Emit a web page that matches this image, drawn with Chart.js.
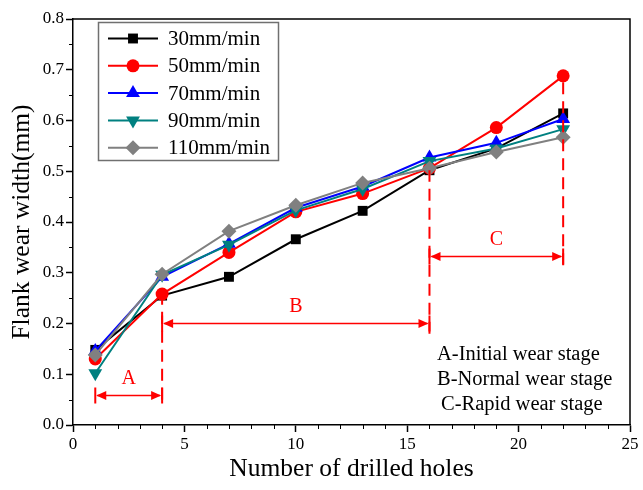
<!DOCTYPE html>
<html><head><meta charset="utf-8">
<script src="https://cdn.jsdelivr.net/npm/chart.js@4/dist/chart.umd.min.js"></script>
<style>html,body{margin:0;padding:0;background:#fff;}canvas{display:block;}</style>
</head><body>
<canvas id="c" width="643" height="490"></canvas>
<script>
// ---- data ----
const holes = [1, 4, 7, 10, 13, 16, 19, 22];
const seriesNames = ['30mm/min', '50mm/min', '70mm/min', '90mm/min', '110mm/min'];
const v30  = [0.148, 0.255, 0.292, 0.366, 0.422, 0.502, 0.545, 0.614];
const v50  = [0.130, 0.258, 0.340, 0.420, 0.456, 0.506, 0.586, 0.688];
const v70  = [0.146, 0.292, 0.357, 0.428, 0.470, 0.527, 0.556, 0.603];
const v90  = [0.102, 0.296, 0.355, 0.423, 0.465, 0.520, 0.545, 0.583];
const v110 = [0.138, 0.297, 0.382, 0.433, 0.477, 0.506, 0.538, 0.567];
const xTickValues = [0, 5, 10, 15, 20, 25];
const yTickValues = [0.0, 0.1, 0.2, 0.3, 0.4, 0.5, 0.6, 0.7, 0.8];
const stageBounds = [1, 4, 16, 22];
const stageLetters = ['A', 'B', 'C'];
const stageArrowY = [0.058, 0.200, 0.332];
const stageLineBottom = [0.05, 0.05, 0.18, 0.315];
const stageLineTop = [0.08, 0.255, 0.502, 0.688];
const stageNotes = ['A-Initial wear stage', 'B-Normal wear stage', 'C-Rapid wear stage'];

// ---- styles ----
const FONT = "'Liberation Serif', 'Times New Roman', serif";
const RED = '#ff0000';
const styles = [
  {color: '#000000', shape: 'rect', r: 7, rot: 0},
  {color: '#ff0000', shape: 'circle', r: 6.5, rot: 0},
  {color: '#0000ff', shape: 'triangle', r: 8, rot: 0},
  {color: '#008080', shape: 'triangle', r: 8, rot: 180},
  {color: '#808080', shape: 'rectRot', r: 7.5, rot: 0}
];
const allValues = [v30, v50, v70, v90, v110];

Chart.defaults.font.family = FONT;
Chart.defaults.color = '#000';

const datasets = allValues.map((vals, i) => ({
  label: seriesNames[i],
  data: holes.map((h, j) => ({x: h, y: vals[j]})),
  borderColor: styles[i].color,
  backgroundColor: styles[i].color,
  borderWidth: 2,
  pointStyle: styles[i].shape,
  pointRadius: styles[i].r,
  pointRotation: styles[i].rot,
  pointBorderWidth: 0,
  pointBackgroundColor: styles[i].color,
  tension: 0,
  order: 5 - i
}));

function drawMarker(ctx, st, x, y) {
  ctx.save();
  ctx.fillStyle = st.color;
  ctx.beginPath();
  const r = st.r;
  if (st.shape === 'rect') {
    const s = r * Math.SQRT1_2;
    ctx.rect(x - s, y - s, 2 * s, 2 * s);
  } else if (st.shape === 'circle') {
    ctx.arc(x, y, r, 0, Math.PI * 2);
  } else if (st.shape === 'triangle') {
    let rad = st.rot * Math.PI / 180;
    for (let k = 0; k < 3; k++) {
      const px = x + Math.sin(rad) * r, py = y - Math.cos(rad) * r;
      if (k === 0) ctx.moveTo(px, py); else ctx.lineTo(px, py);
      rad += 2 * Math.PI / 3;
    }
  } else if (st.shape === 'rectRot') {
    ctx.moveTo(x - r, y); ctx.lineTo(x, y - r); ctx.lineTo(x + r, y); ctx.lineTo(x, y + r);
  }
  ctx.closePath();
  ctx.fill();
  ctx.restore();
}

const decorPlugin = {
  id: 'decor',
  afterDatasetsDraw(chart) {
    const {ctx, chartArea: a, scales: {x, y}} = chart;
    ctx.save();
    // frame top/right
    ctx.strokeStyle = '#000'; ctx.lineWidth = 1.5;
    ctx.beginPath();
    ctx.moveTo(a.left, a.top); ctx.lineTo(a.right, a.top); ctx.lineTo(a.right, a.bottom);
    ctx.stroke();
    // minor ticks
    ctx.lineWidth = 1;
    ctx.beginPath();
    for (let v = 1; v < 25; v++) {
      if (v % 5 === 0) continue;
      const px = Math.round(x.getPixelForValue(v)) + 0.5;
      ctx.moveTo(px, a.bottom); ctx.lineTo(px, a.bottom + 4);
    }
    for (let k = 0; k < yTickValues.length - 1; k++) {
      const py = Math.round(y.getPixelForValue((yTickValues[k] + yTickValues[k + 1]) / 2)) + 0.5;
      ctx.moveTo(a.left - 4, py); ctx.lineTo(a.left, py);
    }
    ctx.stroke();

    // stage annotations
    ctx.strokeStyle = RED; ctx.fillStyle = RED;
    ctx.lineWidth = 2;
    ctx.setLineDash([12, 7]);
    for (let i = 1; i < stageBounds.length; i++) {
      const px = x.getPixelForValue(stageBounds[i]);
      ctx.beginPath();
      ctx.moveTo(px, y.getPixelForValue(stageLineBottom[i]));
      ctx.lineTo(px, y.getPixelForValue(stageLineTop[i]));
      ctx.stroke();
    }
    ctx.setLineDash([]);
    for (let i = 0; i < stageLetters.length; i++) {
      const x1 = x.getPixelForValue(stageBounds[i]);
      const x2 = x.getPixelForValue(stageBounds[i + 1]);
      const py = y.getPixelForValue(stageArrowY[i]);
      ctx.lineWidth = 2;
      ctx.beginPath();
      ctx.moveTo(x1, py - 8); ctx.lineTo(x1, py + 8);
      ctx.moveTo(x2, py - 8); ctx.lineTo(x2, py + 8);
      ctx.stroke();
      ctx.lineWidth = 1.5;
      ctx.beginPath();
      ctx.moveTo(x1 + 2, py); ctx.lineTo(x2 - 2, py);
      ctx.stroke();
      ctx.beginPath();
      ctx.moveTo(x1 + 1, py); ctx.lineTo(x1 + 11, py - 4.5); ctx.lineTo(x1 + 11, py + 4.5); ctx.closePath();
      ctx.fill();
      ctx.beginPath();
      ctx.moveTo(x2 - 1, py); ctx.lineTo(x2 - 11, py - 4.5); ctx.lineTo(x2 - 11, py + 4.5); ctx.closePath();
      ctx.fill();
      ctx.font = '20px ' + FONT;
      ctx.textAlign = 'center'; ctx.textBaseline = 'middle';
      ctx.fillText(stageLetters[i], (x1 + x2) / 2, py - 17);
    }
    // stage notes
    ctx.fillStyle = '#000';
    ctx.font = '20.5px ' + FONT;
    ctx.textAlign = 'left'; ctx.textBaseline = 'middle';
    for (let i = 0; i < stageNotes.length; i++) {
      ctx.fillText(stageNotes[i], i === 2 ? 441 : 437, 355 + i * 25);
    }

    // legend
    const lx = 98.5, ly = 22.5, lw = 180, lh = 138;
    ctx.fillStyle = '#fff';
    ctx.fillRect(lx, ly, lw, lh);
    ctx.strokeStyle = '#707070'; ctx.lineWidth = 1.5;
    ctx.strokeRect(lx, ly, lw, lh);
    ctx.font = '21px ' + FONT;
    ctx.textAlign = 'left'; ctx.textBaseline = 'middle';
    for (let i = 0; i < seriesNames.length; i++) {
      const ry = 38.5 + i * 27.3;
      ctx.strokeStyle = styles[i].color; ctx.lineWidth = 2;
      ctx.beginPath(); ctx.moveTo(108, ry); ctx.lineTo(158, ry); ctx.stroke();
      drawMarker(ctx, styles[i], 133, ry);
      ctx.fillStyle = '#000';
      ctx.fillText(seriesNames[i], 168, ry + 1);
    }
    ctx.restore();
  }
};

new Chart(document.getElementById('c'), {
  type: 'line',
  data: {datasets},
  options: {
    responsive: false,
    animation: false,
    devicePixelRatio: 1,
    layout: {padding: {top: 19, right: 13, left: 0, bottom: 0}},
    plugins: {legend: {display: false}, tooltip: {enabled: false}},
    scales: {
      x: {
        type: 'linear', min: 0, max: 25,
        afterFit: s => { s.height = 65; },
        afterBuildTicks: s => { s.ticks = xTickValues.map(v => ({value: v})); },
        ticks: {font: {size: 17, family: FONT}, color: '#000', padding: 2, maxRotation: 0,
                callback: v => String(v)},
        grid: {display: true, drawOnChartArea: false, drawTicks: true, tickLength: 7, color: '#000', tickWidth: 1.5},
        border: {display: true, color: '#000', width: 1.5},
        title: {display: true, text: 'Number of drilled holes', font: {size: 25.5, family: FONT}, color: '#000', padding: {top: 5, bottom: 5}}
      },
      y: {
        type: 'linear', min: 0, max: 0.8,
        afterFit: s => { s.width = 73; },
        afterBuildTicks: s => { s.ticks = yTickValues.map(v => ({value: v})); },
        ticks: {font: {size: 17, family: FONT}, color: '#000', padding: 2,
                callback: v => Number(v).toFixed(1)},
        grid: {display: true, drawOnChartArea: false, drawTicks: true, tickLength: 7, color: '#000', tickWidth: 1.5},
        border: {display: true, color: '#000', width: 1.5},
        title: {display: true, text: 'Flank wear width(mm)', font: {size: 25.5, family: FONT}, color: '#000', padding: {top: 7, bottom: 7}}
      }
    }
  },
  plugins: [decorPlugin]
});
</script>
</body></html>
